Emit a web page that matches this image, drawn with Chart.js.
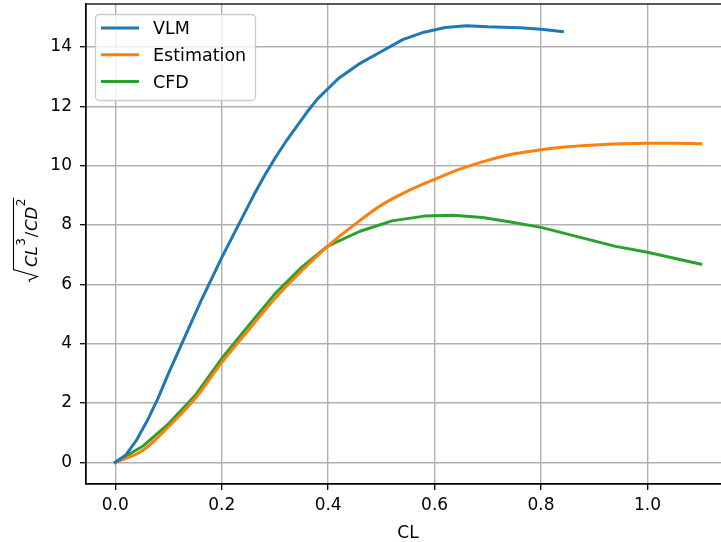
<!DOCTYPE html>
<html>
<head>
<meta charset="utf-8">
<script src="https://cdn.jsdelivr.net/npm/chart.js@4.4.1/dist/chart.umd.min.js"></script>
<style>
  html, body { margin: 0; padding: 0; overflow: hidden; background: #fff; }
  canvas { display: block; }
</style>
</head>
<body>
<canvas id="chart" width="740" height="542"></canvas>
<script>
// CL values and sqrt(CL^3/CD^2)
var vlmCL = [0, 0.02, 0.04, 0.06, 0.08, 0.10, 0.12, 0.14, 0.16, 0.18, 0.20, 0.22, 0.24, 0.26, 0.28, 0.30, 0.32, 0.34, 0.36, 0.38, 0.40, 0.42, 0.46, 0.50, 0.54, 0.58, 0.62, 0.66, 0.70, 0.76, 0.80, 0.84];
var vlmVal = [0, 0.25, 0.75, 1.4, 2.15, 3.0, 3.8, 4.6, 5.4, 6.15, 6.9, 7.6, 8.3, 9.0, 9.65, 10.25, 10.8, 11.3, 11.8, 12.25, 12.6, 12.95, 13.45, 13.85, 14.25, 14.5, 14.66, 14.72, 14.68, 14.65, 14.6, 14.52];

var estCL = [0, 0.05, 0.1, 0.15, 0.2, 0.25, 0.3, 0.35, 0.4, 0.45, 0.5, 0.55, 0.6, 0.65, 0.7, 0.75, 0.8, 0.85, 0.9, 0.95, 1.0, 1.05, 1.1];
var estVal = [0, 0.38, 1.2, 2.15, 3.36, 4.45, 5.52, 6.45, 7.3, 8.02, 8.67, 9.15, 9.54, 9.9, 10.18, 10.4, 10.54, 10.64, 10.7, 10.74, 10.76, 10.76, 10.74];

var cfdCL = [0, 0.053, 0.1, 0.15, 0.2, 0.25, 0.3, 0.35, 0.4, 0.46, 0.52, 0.58, 0.635, 0.69, 0.74, 0.8, 0.87, 0.94, 1.0, 1.1];
var cfdVal = [0, 0.56, 1.3, 2.25, 3.5, 4.6, 5.68, 6.57, 7.3, 7.79, 8.14, 8.3, 8.33, 8.25, 8.11, 7.92, 7.6, 7.28, 7.08, 6.68];

var xTicks = [0, 0.2, 0.4, 0.6, 0.8, 1.0];
var yTicks = [0, 2, 4, 6, 8, 10, 12, 14];
var seriesNames = ['VLM', 'Estimation', 'CFD'];
var seriesColors = ['#1f77b4', '#ff7f0e', '#2ca02c'];

var FONT = '"DejaVu Sans", sans-serif';
var LINE_W = 3;
Chart.defaults.font.family = FONT;
Chart.defaults.font.size = 17;
Chart.defaults.color = '#000';

function pts(xs, ys) {
  return xs.map((x, i) => ({ x: x, y: ys[i] }));
}

function series(i, xs, ys, smooth) {
  return {
    label: seriesNames[i],
    data: pts(xs, ys),
    borderColor: seriesColors[i],
    backgroundColor: seriesColors[i],
    borderWidth: LINE_W,
    tension: 0,
    cubicInterpolationMode: smooth ? 'monotone' : 'default',
    borderJoinStyle: 'round',
    borderCapStyle: 'square',
    pointRadius: 0,
    pointHoverRadius: 0
  };
}

// spines, legend box and the mathtext y label
var extras = {
  id: 'extras',
  afterDatasetsDraw(chart) {
    var a = chart.chartArea, ctx = chart.ctx;
    ctx.save();
    ctx.strokeStyle = '#000';
    ctx.lineWidth = 1.3;
    ctx.strokeRect(a.left, a.top, a.right - a.left, a.bottom - a.top);
    ctx.restore();
  },
  afterDraw(chart) {
    var ctx = chart.ctx;
    ctx.save();
    // legend
    var bx = 95.5, by = 14.5, bw = 160, bh = 86;
    ctx.beginPath();
    if (ctx.roundRect) ctx.roundRect(bx, by, bw, bh, 4); else ctx.rect(bx, by, bw, bh);
    ctx.fillStyle = 'rgba(255,255,255,0.8)';
    ctx.fill();
    ctx.strokeStyle = '#cccccc';
    ctx.lineWidth = 1.3;
    ctx.stroke();
    ctx.font = '17.5px ' + FONT;
    ctx.textBaseline = 'alphabetic';
    chart.data.datasets.forEach(function(ds, i) {
      var y = 28 + i * 26.8;
      ctx.beginPath();
      ctx.moveTo(101, y);
      ctx.lineTo(139, y);
      ctx.strokeStyle = ds.borderColor;
      ctx.lineWidth = LINE_W;
      ctx.stroke();
      ctx.fillStyle = '#000';
      ctx.fillText(ds.label, 153, y + 6.3);
    });

    // y label: sqrt(CL^3 / CD^2)
    ctx.translate(37, 282);
    ctx.rotate(-Math.PI / 2);
    ctx.fillStyle = '#000';
    var x = 15;
    var parts = [
      { t: 'CL', f: 'italic 16.5px ' + FONT, dy: 0 },
      { t: '3', f: '12px ' + FONT, dy: -12 },
      { t: '/', f: '16.5px ' + FONT, dy: 0 },
      { t: 'CD', f: 'italic 16.5px ' + FONT, dy: 0 },
      { t: '2', f: '12px ' + FONT, dy: -12 }
    ];
    parts.forEach(function(p) {
      ctx.font = p.f;
      ctx.fillText(p.t, x, p.dy);
      x += ctx.measureText(p.t).width + (p.dy ? 1 : 0.5);
    });
    ctx.beginPath();
    ctx.moveTo(0, -7);
    ctx.lineTo(2, -8);
    ctx.lineTo(5.5, 0.5);
    ctx.lineTo(12.5, -23.5);
    ctx.lineTo(x, -23.5);
    ctx.strokeStyle = '#000';
    ctx.lineWidth = 1.1;
    ctx.stroke();
    ctx.restore();
  }
};

var chart = new Chart('chart', {
  type: 'line',
  data: {
    datasets: [
      series(0, vlmCL, vlmVal, false),
      series(1, estCL, estVal, true),
      series(2, cfdCL, cfdVal, false)
    ]
  },
  options: {
    responsive: false,
    animation: false,
    devicePixelRatio: 1,
    layout: { padding: { left: 0, top: 4, right: 10, bottom: 0 } },
    plugins: { legend: { display: false }, tooltip: { enabled: false } },
    scales: {
      x: {
        type: 'linear',
        min: -0.055,
        max: 1.155,
        afterBuildTicks: s => { s.ticks = xTicks.map(v => ({ value: v })); },
        afterFit: s => { s.height = 58; s.paddingLeft = 0; s.paddingRight = 0; },
        ticks: { padding: 5, callback: v => v.toFixed(1) },
        grid: { color: '#b0b0b0', lineWidth: 1.4, tickColor: '#000', tickLength: 6, tickWidth: 1.3 },
        border: { color: '#000', width: 1.3 },
        title: { display: true, text: 'CL', padding: { top: 0, bottom: -2 } }
      },
      y: {
        type: 'linear',
        min: -0.73,
        max: 15.45,
        afterBuildTicks: s => { s.ticks = yTicks.map(v => ({ value: v })); },
        afterFit: s => { s.width = 86; s.paddingTop = 0; s.paddingBottom = 0; },
        ticks: { padding: 8, callback: v => String(v) },
        grid: { color: '#b0b0b0', lineWidth: 1.4, tickColor: '#000', tickLength: 6, tickWidth: 1.3 },
        border: { color: '#000', width: 1.3 }
      }
    }
  },
  plugins: [extras]
});
</script>
</body>
</html>
